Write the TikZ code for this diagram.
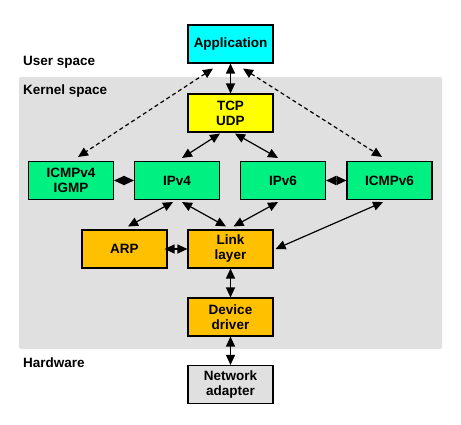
\documentclass[tikz,border=0pt]{standalone}
\usepackage{fontspec}
\setmainfont{Liberation Sans}
\usetikzlibrary{arrows.meta}

\definecolor{appcyan}{RGB}{0,255,255}
\definecolor{tcpyellow}{RGB}{255,255,0}
\definecolor{ipgreen}{RGB}{0,240,130}
\definecolor{linkorange}{RGB}{255,192,0}
\definecolor{hwgray}{RGB}{224,224,224}
\definecolor{kernelgray}{RGB}{224,224,224}

\tikzset{
  box/.style={draw=black,line width=1.1pt,minimum width=85pt,minimum height=38pt,
    inner sep=0pt,align=center,font=\fontsize{13.5}{15}\selectfont\bfseries},
  region/.style={font=\fontsize{13.5}{15}\selectfont\bfseries,anchor=west,inner sep=0pt},
  link/.style={line width=1.2pt,{Triangle[length=10pt,width=9pt]}-{Triangle[length=10pt,width=9pt]}},
  socklink/.style={link,dash pattern=on 4pt off 3pt}
}

\begin{document}
\begin{tikzpicture}[x=1pt,y=-1pt]
\useasboundingbox (0,0) rectangle (461,424);

% Kernel bolgesi
\fill[kernelgray,rounded corners=2pt] (19,77) rectangle (442,349);
\node[region] (user) at (23,62) {User space};
\node[region] (kernel) at (23,91) {Kernel space};
\node[region] (hw) at (23,363) {Hardware};

% Kutular
\node[box,fill=appcyan] (app) at (230.5,44) {Application};
\node[box,fill=tcpyellow] (tcp) at (230.5,113) {TCP\\UDP};
\node[box,fill=ipgreen] (icmpv4) at (71,180.5) {ICMPv4\\IGMP};
\node[box,fill=ipgreen] (ipv4) at (177,180.5) {IPv4};
\node[box,fill=ipgreen] (ipv6) at (283,180.5) {IPv6};
\node[box,fill=ipgreen] (icmpv6) at (389.5,180.5) {ICMPv6};
\node[box,fill=linkorange] (arp) at (124.5,249) {ARP};
\node[box,fill=linkorange] (linkl) at (230.5,249) {Link\\layer};
\node[box,fill=linkorange] (driver) at (230.5,317) {Device\\driver};
\node[box,fill=hwgray] (adapter) at (230.5,384.5) {Network\\adapter};

% Soket baglantilari
\draw[socklink] ([xshift=-17.5pt,yshift=-5pt]app.south) -- ([xshift=7pt,yshift=4pt]icmpv4.north);
\draw[socklink] ([xshift=12.5pt,yshift=-5pt]app.south) -- ([xshift=-7.5pt,yshift=4pt]icmpv6.north);

% Katmanlar arasi oklar
\draw[link] (app.south) -- (tcp.north);
\draw[link] ([xshift=-10.5pt,yshift=-1pt]tcp.south) -- ([xshift=5pt,yshift=3pt]ipv4.north);
\draw[link] ([xshift=4.5pt,yshift=-1pt]tcp.south) -- ([xshift=-5pt,yshift=3pt]ipv6.north);
\draw[link] (icmpv4.east) -- (ipv4.west);
\draw[link] (ipv6.east) -- (icmpv6.west);
\draw[link] ([xshift=-4pt,yshift=-2pt]ipv4.south) -- ([xshift=3.5pt,yshift=3pt]arp.north);
\draw[link] ([xshift=5pt,yshift=-2pt]ipv4.south) -- ([xshift=-4.5pt,yshift=3pt]linkl.north);
\draw[link] ([xshift=-5pt,yshift=-2pt]ipv6.south) -- ([xshift=3pt,yshift=3pt]linkl.north);
\draw[link] ([xshift=-6.5pt,yshift=-2pt]icmpv6.south) -- ([xshift=2pt]linkl.east);
\draw[link] ([xshift=-3pt]arp.east) -- (linkl.west);
\draw[link] (linkl.south) -- (driver.north);
\draw[link] (driver.south) -- (adapter.north);

\end{tikzpicture}
\end{document}
